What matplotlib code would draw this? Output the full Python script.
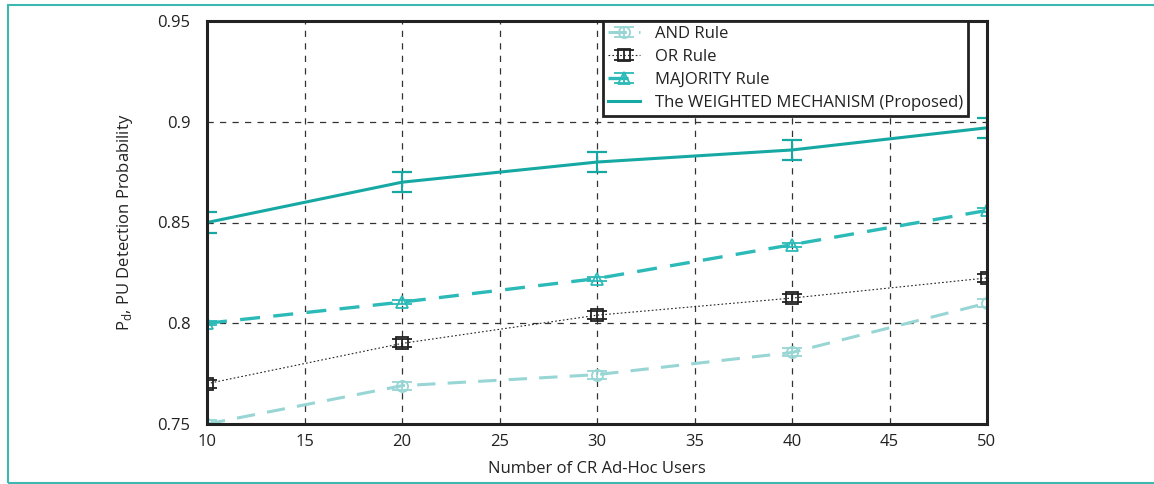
import matplotlib
matplotlib.use("Agg")
import matplotlib.pyplot as plt
from matplotlib.patches import Rectangle
from matplotlib.container import ErrorbarContainer
from matplotlib.legend_handler import HandlerErrorbar

plt.rcParams['font.family'] = ['Open Sans', 'DejaVu Sans']

users = [10, 20, 30, 40, 50]

and_rule = [0.750, 0.769, 0.7745, 0.7855, 0.810]
and_err = [0.002, 0.002, 0.002, 0.002, 0.002]
or_rule = [0.770, 0.790, 0.804, 0.8125, 0.8225]
or_err = [0.002, 0.002, 0.002, 0.002, 0.002]
maj_rule = [0.800, 0.8105, 0.8222, 0.839, 0.856]
maj_err = [0.001, 0.001, 0.001, 0.001, 0.001]
weighted = [0.850, 0.870, 0.880, 0.886, 0.897]
weighted_err = [0.005, 0.005, 0.005, 0.005, 0.005]

c_and = '#97d6d4'
c_or = '#222222'
c_maj = '#2bbab8'
c_w = '#16a8a3'

fig = plt.figure(figsize=(11.54, 4.84), dpi=100)
ax = fig.add_axes([207/1154, 1-424/484, 780/1154, 403/484])

# outer teal frame
fig.patches.append(Rectangle((8/1154, 1/484), 1.2, 478/484, transform=fig.transFigure,
                             fill=False, edgecolor='#3cb8b1', linewidth=1.5))

e1 = ax.errorbar(users, and_rule, yerr=and_err, color=c_and, linestyle=(0, (6, 4)), linewidth=2.2,
                 marker='o', markersize=8, markerfacecolor='none', markeredgewidth=1.3,
                 capsize=7, capthick=1.6, elinewidth=1.3, label='AND Rule')
e2 = ax.errorbar(users, or_rule, yerr=or_err, color=c_or, linestyle=(0, (1.5, 2)), linewidth=0.8,
                 marker='s', markersize=8, markerfacecolor='none', markeredgewidth=1.3,
                 capsize=7, capthick=1.6, elinewidth=1.3, label='OR Rule')
e3 = ax.errorbar(users, maj_rule, yerr=maj_err, color=c_maj, linestyle=(0, (6, 4)), linewidth=2.4,
                 marker='^', markersize=8, markerfacecolor='none', markeredgewidth=1.3,
                 capsize=7, capthick=1.6, elinewidth=1.3, label='MAJORITY Rule')
e4 = ax.errorbar(users, weighted, yerr=weighted_err, color=c_w, linestyle='-', linewidth=2.2,
                 capsize=7, capthick=1.6, elinewidth=1.5, label='The WEIGHTED MECHANISM (Proposed)')

ax.set_xlim(10, 50)
ax.set_ylim(0.75, 0.95)
ax.set_xticks([10, 15, 20, 25, 30, 35, 40, 45, 50])
ax.set_yticks([0.75, 0.8, 0.85, 0.9, 0.95])
ax.set_yticklabels(['0.75', '0.8', '0.85', '0.9', '0.95'])
ax.tick_params(labelsize=12, length=0, colors='#222222')
ax.tick_params(axis='y', pad=12)
ax.tick_params(axis='x', pad=7)
ax.grid(True, linestyle=(0, (5, 5)), color='#333333', linewidth=0.9)
for s in ax.spines.values():
    s.set_linewidth(2.2)
    s.set_color('#222222')

ax.set_xlabel('Number of CR Ad-Hoc Users', fontsize=12, color='#222222', labelpad=8)
ax.set_ylabel(r'P$_\mathregular{d}$, PU Detection Probability', fontsize=12, color='#222222', labelpad=16)

handles = [e1, e2, e3, e4.lines[0]]
labels = ['AND Rule', 'OR Rule', 'MAJORITY Rule', 'The WEIGHTED MECHANISM (Proposed)']
leg = ax.legend(handles, labels, loc='upper right', bbox_to_anchor=(0.976, 1.0), fontsize=12,
                frameon=True, fancybox=False, borderpad=0.3, labelspacing=0.42, handlelength=1.9,
                handletextpad=0.9, borderaxespad=0,
                handler_map={ErrorbarContainer: HandlerErrorbar(yerr_size=0.3)})
leg.get_frame().set_edgecolor('#222222')
leg.get_frame().set_linewidth(2.0)
leg.get_frame().set_alpha(1)
for t in leg.get_texts():
    t.set_color('#222222')

fig.savefig('out.png', dpi=100)
